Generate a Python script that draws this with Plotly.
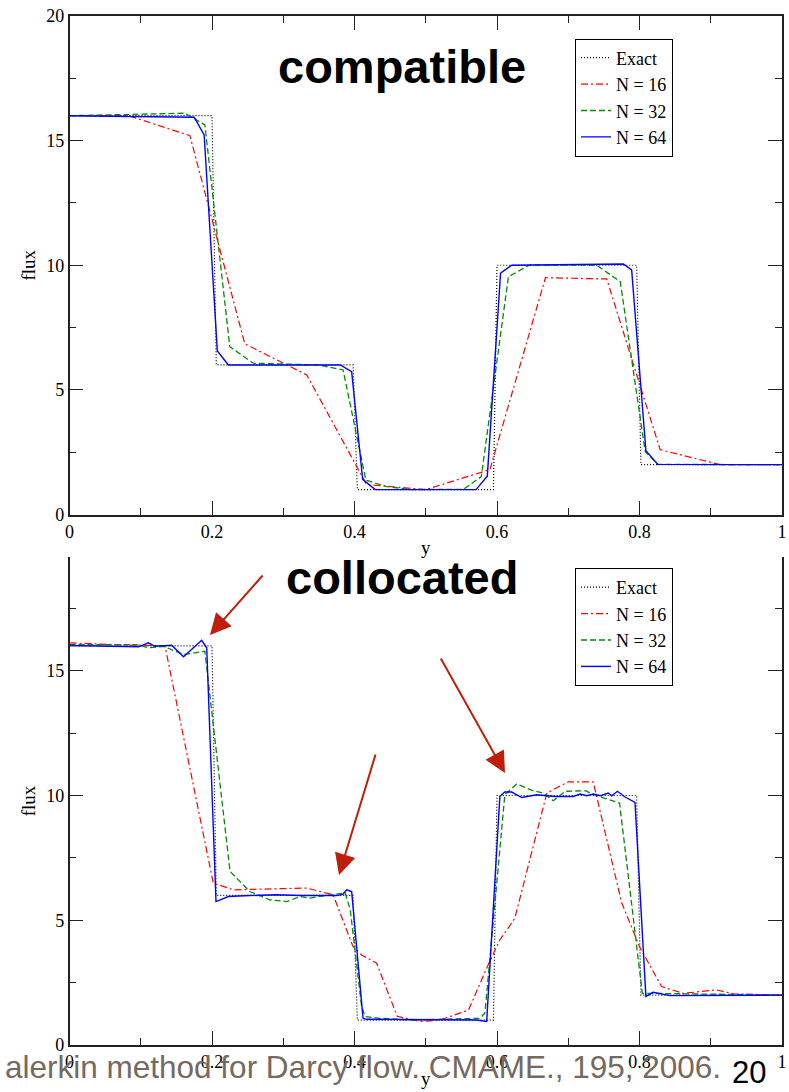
import plotly.graph_objects as go

# ---------------- data ----------------
exact_x = [0.0, 0.2, 0.206, 0.398, 0.404, 0.595, 0.600, 0.796, 0.802, 1.0]
exact_y = [16, 16, 6, 6, 1, 1, 10, 10, 2, 2]

# compatible (top)
top_n16_x = [0.0, 0.083, 0.169, 0.246, 0.333, 0.417, 0.5, 0.59, 0.668, 0.754, 0.829, 0.913, 1.0]
top_n16_y = [16.0, 16.0, 15.2, 6.85, 5.6, 1.2, 1.0, 1.8, 9.5, 9.45, 2.6, 2.0, 2.0]

top_n32_x = [0.0, 0.162, 0.19, 0.225, 0.258, 0.35, 0.384, 0.416, 0.445, 0.48, 0.553, 0.578,
             0.616, 0.646, 0.74, 0.773, 0.808, 0.826, 1.0]
top_n32_y = [16.0, 16.1, 15.63, 6.73, 6.07, 6.0, 5.8, 1.38, 1.12, 1.0, 1.01, 1.52,
             9.54, 10.01, 10.0, 9.34, 2.52, 2.01, 2.0]

top_n64_x = [0.0, 0.175, 0.189, 0.2075, 0.223, 0.38, 0.396, 0.4115, 0.429, 0.5705, 0.5864,
             0.605, 0.6206, 0.7773, 0.789, 0.809, 0.8256, 1.0]
top_n64_y = [16.0, 15.94, 15.23, 6.56, 6.0, 6.0, 5.73, 1.41, 1.0, 1.0, 1.54,
             9.68, 10.0, 10.05, 9.81, 2.56, 2.01, 2.0]

# collocated (bottom)
bot_n16_x = [0.0, 0.06, 0.134, 0.2018, 0.23, 0.333, 0.37, 0.398, 0.41, 0.431, 0.46, 0.492,
             0.52, 0.56, 0.5855, 0.604, 0.625, 0.67, 0.70, 0.735, 0.775, 0.80, 0.831,
             0.8615, 0.908, 0.932, 1.0]
bot_n16_y = [16.12, 16.05, 16.0, 6.49, 6.22, 6.29, 6.02, 3.94, 3.61, 3.28, 1.15, 0.94,
             1.0, 1.40, 3.08, 4.21, 5.08, 10.1, 10.55, 10.55, 5.7, 3.94, 2.34,
             2.07, 2.21, 2.05, 2.0]

bot_n32_x = [0.0, 0.094, 0.111, 0.132, 0.16, 0.19, 0.2253, 0.253, 0.281, 0.305, 0.3235,
             0.3375, 0.366, 0.387, 0.394, 0.41, 0.415, 0.436, 0.48, 0.576, 0.583, 0.611,
             0.6277, 0.651, 0.665, 0.679, 0.696, 0.724, 0.736, 0.759, 0.772, 0.804,
             0.815, 1.0]
bot_n32_y = [16.05, 16.05, 15.92, 15.98, 15.65, 15.78, 6.96, 6.15, 5.82, 5.75, 5.95,
             5.89, 6.02, 6.09, 5.42, 1.54, 1.14, 1.07, 1.0, 1.07, 1.27, 10.03,
             10.46, 10.19, 10.1, 9.79, 10.17, 10.19, 10.03, 9.83, 9.7, 2.07,
             2.07, 2.0]

bot_n64_x = [0.0, 0.097, 0.1106, 0.12, 0.1434, 0.16, 0.1855, 0.1926, 0.2056, 0.223, 0.253,
             0.29, 0.3235, 0.375, 0.384, 0.389, 0.396, 0.412, 0.417, 0.5715, 0.5855,
             0.604, 0.611, 0.6206, 0.6347, 0.6557, 0.681, 0.707, 0.7165, 0.726, 0.735,
             0.7455, 0.756, 0.761, 0.769, 0.7797, 0.7937, 0.809, 0.819, 0.843, 1.0]
bot_n64_y = [16.01, 15.96, 16.12, 15.98, 16.02, 15.56, 16.22, 15.92, 5.75, 5.95, 5.99,
             6.02, 5.99, 5.99, 6.05, 6.22, 6.15, 1.07, 1.03, 1.0, 0.94,
             9.96, 10.14, 10.14, 9.92, 10.03, 9.96, 9.96, 10.06, 9.99, 10.06,
             9.99, 10.1, 9.99, 10.17, 9.94, 9.72, 1.94, 2.11, 1.98, 2.0]

series_names = ["Exact", "N = 16", "N = 32", "N = 64"]

# ---------------- styling ----------------
W, H = 789, 1092
def fx(p): return p / W
def fy(p): return 1 - p / H

styles = [
    dict(color="black", width=1.2, dash="1px,2px"),
    dict(color="#FF0000", width=1.2, dash="7px,3px,2px,3px"),
    dict(color="#008C00", width=1.3, dash="6px,3px"),
    dict(color="#0000FF", width=1.4, dash="solid"),
]

fig = go.Figure()
top_sets = [(exact_x, exact_y), (top_n16_x, top_n16_y), (top_n32_x, top_n32_y), (top_n64_x, top_n64_y)]
bot_sets = [(exact_x, exact_y), (bot_n16_x, bot_n16_y), (bot_n32_x, bot_n32_y), (bot_n64_x, bot_n64_y)]
for (xs, ys), name, st in zip(top_sets, series_names, styles):
    fig.add_trace(go.Scatter(x=xs, y=ys, mode="lines", name=name, line=st,
                             xaxis="x", yaxis="y", legend="legend"))
for (xs, ys), name, st in zip(bot_sets, series_names, styles):
    fig.add_trace(go.Scatter(x=xs, y=ys, mode="lines", name=name, line=st,
                             xaxis="x2", yaxis="y2", legend="legend2"))

serif = "Liberation Serif"
tickfont = dict(family=serif, size=18, color="black")
titlefont = dict(family=serif, size=19, color="black")
axcommon = dict(showgrid=False, zeroline=False, showline=True, linecolor="#222222",
                linewidth=1.5, ticks="inside", tickwidth=1.4, tickcolor="#222222",
                ticklen=14, tickfont=tickfont, automargin=False)
minor_x = dict(ticks="inside", ticklen=7, dtick=0.1, tickwidth=1.4, tickcolor="#222222")
minor_y = dict(ticks="inside", ticklen=7, dtick=2.5, tickwidth=1.4, tickcolor="#222222")

legend_common = dict(xanchor="center", yanchor="middle", bgcolor="white",
                     bordercolor="black", borderwidth=1,
                     font=dict(family=serif, size=18, color="black"),
                     itemwidth=30, tracegroupgap=0, entrywidth=78, entrywidthmode="pixels")

xdom = [fx(69.5), fx(782)]
fig.update_layout(
    width=W, height=H, margin=dict(l=0, r=0, t=0, b=0, pad=0, autoexpand=False),
    paper_bgcolor="white", plot_bgcolor="white", showlegend=True,
    xaxis=dict(domain=xdom, range=[0, 1], anchor="y", dtick=0.2, mirror="ticks", minor=minor_x,
               title=dict(text="y", font=titlefont, standoff=0), **axcommon),
    yaxis=dict(domain=[fy(514.5), fy(16)], range=[0, 20], anchor="x", dtick=5, mirror="ticks",
               minor=minor_y, title=dict(text="flux", font=titlefont, standoff=6), **axcommon),
    xaxis2=dict(domain=xdom, range=[0, 1], anchor="y2", dtick=0.2, mirror=False, minor=minor_x,
                title=dict(text="y", font=titlefont, standoff=0), **axcommon),
    yaxis2=dict(domain=[fy(1045), fy(557)], range=[0, 19.56], anchor="x2", dtick=5, mirror="ticks",
                minor=minor_y, title=dict(text="flux", font=titlefont, standoff=6), **axcommon),
    legend=dict(x=fx(624), y=fy(97.5), **legend_common),
    legend2=dict(x=fx(624), y=fy(627), **legend_common),
)

annots = [
    dict(text="<b>compatible</b>", x=fx(402), y=fy(66), xref="paper", yref="paper",
         showarrow=False, xanchor="center", yanchor="middle",
         font=dict(family="Liberation Sans", size=47, color="black")),
    dict(text="<b>collocated</b>", x=fx(401.5), y=fy(577), xref="paper", yref="paper",
         showarrow=False, xanchor="center", yanchor="middle",
         font=dict(family="Liberation Sans", size=47, color="black")),
    dict(text="alerkin method for Darcy flow. CMAME., 195, 2006.", x=fx(723), y=fy(1067),
         xref="paper", yref="paper", showarrow=False, xanchor="right", yanchor="middle",
         font=dict(family="Liberation Sans", size=31.5, color="#76695F")),
    dict(text="20", x=fx(748.5), y=0, xref="paper", yref="paper", showarrow=False,
         xanchor="center", yanchor="bottom",
         font=dict(family="Liberation Sans", size=31, color="black")),
]
arrow_color = "#BE1E0A"
for tip, tail in [((210, 635), (264, 574)), ((339, 875), (376, 753)), ((505, 773), (440, 657))]:
    annots.append(dict(text="", x=fx(tip[0]), y=fy(tip[1]), xref="paper", yref="paper",
                       showarrow=True, ax=tail[0] - tip[0], ay=tail[1] - tip[1],
                       axref="pixel", ayref="pixel", arrowhead=2, arrowsize=2.1,
                       arrowwidth=2, arrowcolor=arrow_color, standoff=0))
fig.update_layout(annotations=annots)

fig.write_html("out.html")
